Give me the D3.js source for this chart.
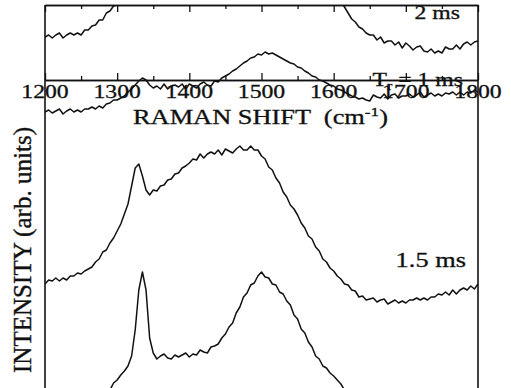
<!DOCTYPE html>
<html>
<head>
<meta charset="utf-8">
<script src="https://cdn.jsdelivr.net/npm/d3@7"></script>
<style>
html,body{margin:0;padding:0;background:#fff;}
svg{display:block;}
text{font-family:"Liberation Serif","Times New Roman",serif;fill:#111;stroke:#111;stroke-width:0.3px;}
</style>
</head>
<body>
<svg id="c" width="511" height="388"></svg>
<script>
// Raman shift sampling grid (cm^-1)
const shifts = d3.range(1200, 1801, 5);
const majorTicks = [1200, 1300, 1400, 1500, 1600, 1700, 1800];
const minorTicks = [1250, 1350, 1450, 1550, 1650, 1750];
const tickLabels = ["1200", "1300", "1400", "1500", "1600", "1700", "1800"];
const seriesLabels = ["2 ms", "1 ms", "1.5 ms", ""];

// Intensities (arb. units, stacked with offsets as in the figure)
const int2ms = [
  363,365,362,365,367,362,365,367,365,367,
  365,370,370,374,375,380,380,387,389,394,
  395,398,402,404,408,415,420,422,415,412,
  410,411,412,413,414,415,416,417,418,419,
  420,421,422,423,424,425,426,427,428,429,
  430,430,430,430,430,430,430,430,430,430,
  430,429,428,427,426,425,424,423,422,421,
  420,418,416,414,412,410,408,406,405,404,
  402,400,398,393,387,381,378,373,371,367,
  365,365,360,363,357,359,359,355,358,352,
  357,354,350,353,354,349,348,351,347,349,
  347,353,351,351,355,351,356,358,355,358,
  359];
const int1ms = [
  288,290,287,289,291,286,289,291,288,290,
  288,291,291,293,291,294,292,296,297,300,
  300,302,304,308,311,315,319,322,320,315,
  312,314,311,316,311,314,315,313,316,311,
  316,314,312,316,318,315,314,319,318,322,
  324,326,329,331,334,337,339,342,343,346,
  345,348,346,347,345,343,341,339,337,336,
  333,332,329,327,324,323,320,319,317,315,
  314,311,310,308,306,304,303,301,302,300,
  299,305,303,302,306,301,305,306,302,304,
  304,306,303,305,308,303,305,307,304,306,
  304,307,306,308,305,308,305,308,307,310,
  308];
const int15ms = [
  116,120,119,122,119,122,120,124,124,127,
  126,129,131,133,138,141,148,150,157,162,
  169,176,186,196,214,232,236,224,210,205,
  210,209,214,215,220,221,226,227,232,234,
  237,241,240,246,242,246,248,246,250,245,
  251,249,247,251,254,250,250,254,250,250,
  244,241,233,230,222,217,208,203,195,191,
  185,177,172,164,161,153,149,141,138,132,
  129,124,121,116,115,110,109,103,104,100,
  101,102,98,100,101,96,98,100,97,99,
  97,100,100,102,100,102,100,103,103,106,
  105,108,105,110,106,110,112,110,114,111,
  116];
const intBottom = [
  -24,-22,-23,-20,-21,-18,-19,-16,-17,-14,
  -13,-11,-10,-7,-5,-2,2,6,10,17,
  20,25,29,34,44,70,110,128,110,62,
  47,41,44,46,42,41,45,43,45,47,
  43,46,45,50,48,47,53,54,56,62,
  66,73,77,87,93,103,107,115,117,124,
  128,123,122,116,115,108,106,99,95,85,
  81,71,67,58,53,44,41,34,32,27,
  24,20,16,10,4,-1,-5,-8,-10,-12,
  -14,-16,-17,-18,-19,-20,-20,-21,-22,-22,
  -23,-23,-24,-24,-25,-25,-25,-25,-25,-25,
  -25,-25,-25,-25,-25,-25,-25,-25,-25,-25,
  -25];

const svg = d3.select("#c");
const L = 45, R = 478, T = 5, AX = 80, B = 388;
const x = d3.scaleLinear().domain([1200, 1800]).range([L, R]);
const y = d3.scaleLinear().domain([0, 400]).range([400, 0]);

svg.append("defs").append("clipPath").attr("id", "clip")
  .append("rect").attr("x", L).attr("y", T).attr("width", R - L).attr("height", B - T + 10);

const line = d3.line().x((d, i) => x(shifts[i])).y(d => y(d));
const gCurves = svg.append("g").attr("clip-path", "url(#clip)");
[int2ms, int1ms, int15ms, intBottom].forEach(s => {
  gCurves.append("path").datum(s).attr("d", line)
    .attr("fill", "none").attr("stroke", "#111").attr("stroke-width", 1.5)
    .attr("stroke-linejoin", "round");
});

function styleAxis(g) {
  g.selectAll("path.domain").attr("stroke", "#111").attr("stroke-width", 1.6);
  g.selectAll(".tick line").attr("stroke", "#111").attr("stroke-width", 1.3);
  g.selectAll(".tick text").remove();
}
// top border with inward ticks
svg.append("g").attr("transform", `translate(0,${T})`)
  .call(d3.axisBottom(x).tickValues(majorTicks).tickSize(7).tickSizeOuter(0).tickFormat(""))
  .call(styleAxis);
svg.append("g").attr("transform", `translate(0,${T})`)
  .call(d3.axisBottom(x).tickValues(minorTicks).tickSize(4).tickSizeOuter(0).tickFormat(""))
  .call(styleAxis);
// lower axis of top panel with inward ticks
svg.append("g").attr("transform", `translate(0,${AX})`)
  .call(d3.axisTop(x).tickValues(majorTicks).tickSize(7).tickSizeOuter(0).tickFormat(""))
  .call(styleAxis);
svg.append("g").attr("transform", `translate(0,${AX})`)
  .call(d3.axisTop(x).tickValues(minorTicks).tickSize(4).tickSizeOuter(0).tickFormat(""))
  .call(styleAxis);

// side frame lines
svg.append("line").attr("x1", L).attr("x2", L).attr("y1", T).attr("y2", B)
  .attr("stroke", "#111").attr("stroke-width", 1.6);
svg.append("line").attr("x1", R).attr("x2", R).attr("y1", T).attr("y2", B)
  .attr("stroke", "#111").attr("stroke-width", 1.6);

const SX = 1.32;
// tick labels
majorTicks.forEach((v, i) => {
  svg.append("g").attr("transform", `translate(${x(v)},98) scale(${SX},1)`)
    .append("text").attr("text-anchor", "middle").attr("font-size", 18)
    .text(tickLabels[i]);
});

// x axis title
const xt = svg.append("g").attr("transform", `translate(133,124) scale(${SX},1)`)
  .append("text").attr("font-size", 20).attr("xml:space", "preserve");
xt.append("tspan").text("RAMAN SHIFT  (cm");
xt.append("tspan").attr("font-size", 13).attr("dy", -8).text("-1");
xt.append("tspan").attr("dy", 8).text(")");

// y axis title
svg.append("g").attr("transform", `translate(31,250) scale(1.3,1) rotate(-90)`)
  .append("text").attr("text-anchor", "middle").attr("font-size", 20)
  .attr("textLength", 246).attr("lengthAdjust", "spacingAndGlyphs")
  .text("INTENSITY  (arb. units)");

// series labels
svg.append("g").attr("transform", `translate(460,19) scale(${SX},1)`)
  .append("text").attr("text-anchor", "end").attr("font-size", 18).text(seriesLabels[0]);

const tr = svg.append("g").attr("transform", `translate(463,86) scale(${SX},1)`)
  .append("text").attr("text-anchor", "end").attr("font-size", 18);
tr.append("tspan").text("T");
tr.append("tspan").attr("font-size", 12).attr("dy", 4).text("r");
tr.append("tspan").attr("dy", -4).text(" = " + seriesLabels[1]);

svg.append("g").attr("transform", `translate(466,267) scale(${SX},1)`)
  .append("text").attr("text-anchor", "end").attr("font-size", 20).text(seriesLabels[2]);
</script>
</body>
</html>
